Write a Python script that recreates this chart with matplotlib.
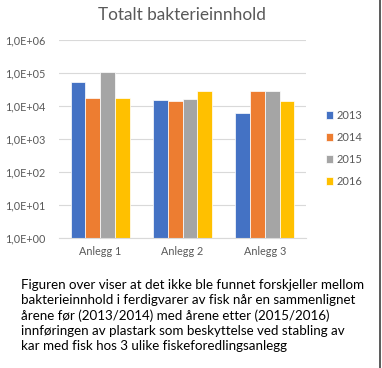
"""
Totalt bakterieinnhold - grouped bar chart on a log scale, with caption text
"""

import numpy as np
import matplotlib.pyplot as plt
from matplotlib.ticker import FuncFormatter, FixedLocator
from matplotlib.lines import Line2D

plt.rcParams['font.family'] = ['Lato', 'DejaVu Sans']

categories = ['Anlegg 1', 'Anlegg 2', 'Anlegg 3']
years = ['2013', '2014', '2015', '2016']
values_2013 = [5.3e4, 1.55e4, 6.3e3]
values_2014 = [1.7e4, 1.4e4, 2.8e4]
values_2015 = [1.07e5, 1.6e4, 2.9e4]
values_2016 = [1.7e4, 2.8e4, 1.45e4]
tick_values = [1e0, 1e1, 1e2, 1e3, 1e4, 1e5, 1e6]

caption = ('Figuren over viser at det ikke ble funnet forskjeller mellom\n'
           'bakterieinnhold i ferdigvarer av fisk når en sammenlignet\n'
           'årene før (2013/2014) med årene etter (2015/2016)\n'
           'innføringen av plastark som beskyttelse ved stabling av\n'
           'kar med fisk hos 3 ulike fiskeforedlingsanlegg')

colors = ['#4472C4', '#ED7D31', '#A5A5A5', '#FFC000']
text_grey = '#595959'
grid_grey = '#D9D9D9'


def sci_label(v, pos):
    exp = int(round(np.log10(v)))
    return f'1,0E+{exp:02d}'


def main():
    fig = plt.figure(figsize=(3.82, 3.68), dpi=100)
    ax = fig.add_axes([59 / 382, 1 - 238 / 368, 247 / 382, 198 / 368])

    series = [values_2013, values_2014, values_2015, values_2016]
    x = np.arange(len(categories))
    width = 0.18
    for i, (vals, year) in enumerate(zip(series, years)):
        ax.bar(x + (i - 1.5) * width, vals, width, color=colors[i],
               edgecolor='white', linewidth=0.5, label=year, zorder=3)

    ax.set_yscale('log')
    ax.set_ylim(1, 1e6)
    ax.set_xlim(-0.5, len(categories) - 0.5)
    ax.yaxis.set_major_locator(FixedLocator(tick_values))
    ax.yaxis.set_minor_locator(FixedLocator([]))
    ax.yaxis.set_major_formatter(FuncFormatter(sci_label))
    ax.set_xticks(x)
    ax.set_xticklabels(categories)
    ax.tick_params(axis='both', length=0, labelsize=7.8, colors=text_grey)
    ax.tick_params(axis='x', pad=6)
    ax.tick_params(axis='y', pad=10)
    ax.grid(axis='y', color=grid_grey, linewidth=0.8, zorder=0)
    for side in ['top', 'right', 'left']:
        ax.spines[side].set_visible(False)
    ax.spines['bottom'].set_color(grid_grey)
    ax.spines['bottom'].set_zorder(4)

    fig.text(182 / 382, 1 - 15 / 368, 'Totalt bakterieinnhold', ha='center',
             va='center', fontsize=12.4, color=text_grey)

    fig.legend(loc='upper left', bbox_to_anchor=(320 / 382, 1 - 104 / 368),
               frameon=False, fontsize=8, labelcolor=text_grey,
               handlelength=0.7, handleheight=0.7, handletextpad=0.3,
               labelspacing=1.0, borderpad=0)

    fig.text(21 / 382, 1 - 279 / 368, caption, ha='left', va='top',
             fontsize=9.6, color='black', linespacing=1.3)

    fig.add_artist(Line2D([380 / 382, 380 / 382], [0, 1], color='#404040',
                          linewidth=1.2, transform=fig.transFigure))

    fig.savefig('out.png', dpi=100)


if __name__ == '__main__':
    main()
